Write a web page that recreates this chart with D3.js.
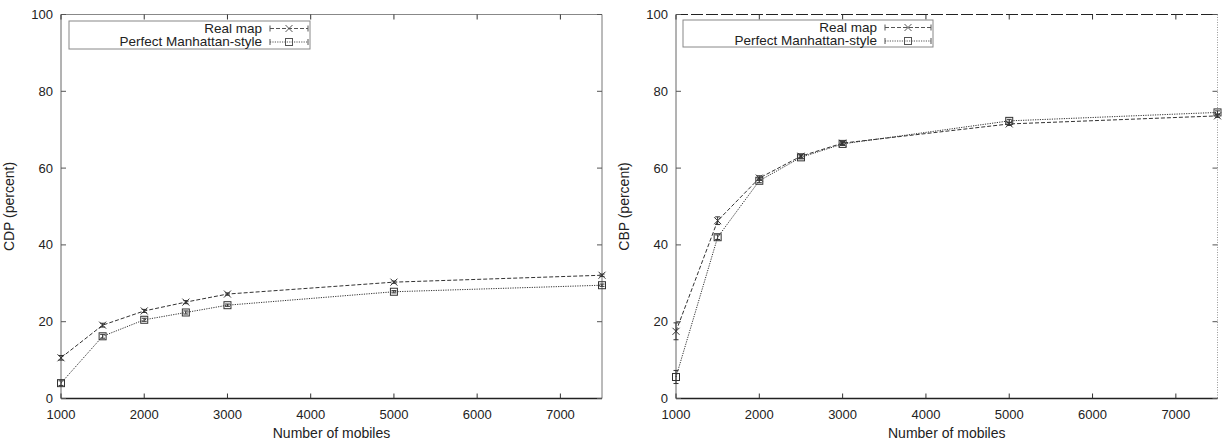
<!DOCTYPE html>
<html>
<head>
<meta charset="utf-8">
<script src="https://cdn.jsdelivr.net/npm/d3@7"></script>
<style>
  html, body { margin: 0; padding: 0; background: #fff; }
  svg text { font-family: "Liberation Sans", Arial, Helvetica, sans-serif; fill: #222; }
</style>
</head>
<body>
<svg id="chart" width="1222" height="442"></svg>
<script>
// ---- data ----
const mobiles = [1000, 1500, 2000, 2500, 3000, 5000, 7500];
const xTicks = [1000, 2000, 3000, 4000, 5000, 6000, 7000];
const yTicks = [0, 20, 40, 60, 80, 100];
const seriesNames = ["Real map", "Perfect Manhattan-style"];

const cdpReal = [10.6, 19.1, 22.8, 25.1, 27.2, 30.3, 32.1];
const cdpManhattan = [4.0, 16.2, 20.5, 22.4, 24.3, 27.8, 29.5];
const cdpRealErr = [0.6, 0.5, 0.4, 0.4, 0.3, 0.3, 0.3];
const cdpManhattanErr = [0.6, 0.5, 0.4, 0.4, 0.3, 0.3, 0.3];

const cbpReal = [17.5, 46.3, 57.4, 63.1, 66.5, 71.5, 73.6];
const cbpManhattan = [5.6, 42.0, 56.7, 62.8, 66.3, 72.3, 74.5];
const cbpRealErr = [2.2, 1.0, 0.6, 0.5, 0.4, 0.4, 0.4];
const cbpManhattanErr = [1.7, 0.6, 0.5, 0.4, 0.4, 0.4, 0.4];

const svg = d3.select("#chart");

function panel(opts) {
  const { left, right, top, bottom, ylabel, real, manh, realErr, manhErr, legendBox, topDashed, rightDotted } = opts;
  const g = svg.append("g");
  const x = d3.scaleLinear().domain([1000, 7500]).range([left, right]);
  const y = d3.scaleLinear().domain([0, 100]).range([bottom, top]);

  // frame
  g.append("line").attr("x1", left).attr("x2", right).attr("y1", top).attr("y2", top)
    .attr("stroke", topDashed ? "#222" : "#888").attr("stroke-width", 1)
    .attr("stroke-dasharray", topDashed ? "12,3" : null);
  g.append("line").attr("x1", right).attr("x2", right).attr("y1", top).attr("y2", bottom)
    .attr("stroke", rightDotted ? "#999" : "#777").attr("stroke-width", 1)
    .attr("stroke-dasharray", rightDotted ? "1,1.5" : null);
  g.append("line").attr("x1", left).attr("x2", left).attr("y1", top).attr("y2", bottom)
    .attr("stroke", "#666").attr("stroke-width", 1);
  g.append("line").attr("x1", left).attr("x2", right).attr("y1", bottom).attr("y2", bottom)
    .attr("stroke", "#222").attr("stroke-width", 1.3);

  // ticks (inward, all four sides)
  const tl = 5;
  xTicks.forEach(v => {
    g.append("line").attr("x1", x(v)).attr("x2", x(v)).attr("y1", bottom).attr("y2", bottom - tl).attr("stroke", "#333");
    g.append("line").attr("x1", x(v)).attr("x2", x(v)).attr("y1", top).attr("y2", top + tl).attr("stroke", "#333");
    g.append("text").attr("x", x(v)).attr("y", bottom + 20).attr("text-anchor", "middle")
      .attr("font-size", 13).text(v);
  });
  yTicks.forEach(v => {
    g.append("line").attr("x1", left).attr("x2", left + tl).attr("y1", y(v)).attr("y2", y(v)).attr("stroke", "#555");
    g.append("line").attr("x1", right).attr("x2", right - tl).attr("y1", y(v)).attr("y2", y(v)).attr("stroke", "#555");
    g.append("text").attr("x", left - 8).attr("y", y(v)).attr("dy", "0.35em").attr("text-anchor", "end")
      .attr("font-size", 13).text(v);
  });

  // axis labels
  g.append("text").attr("x", (left + right) / 2).attr("y", bottom + 39).attr("text-anchor", "middle")
    .attr("font-size", 14).text("Number of mobiles");
  g.append("text").attr("transform", `translate(${left - 47},${(top + bottom) / 2}) rotate(-90)`)
    .attr("text-anchor", "middle").attr("font-size", 14).text(ylabel);

  const styles = [
    { dash: "4,2", color: "#333", marker: "x" },
    { dash: "1.2,1.2", color: "#333", marker: "sq" }
  ];
  const series = [real, manh];
  const errs = [realErr, manhErr];

  function drawMarker(sel, type, cx, cy, color) {
    const s = 3.5;
    if (type === "x") {
      sel.append("path").attr("d", `M${cx - s},${cy - s}L${cx + s},${cy + s}M${cx - s},${cy + s}L${cx + s},${cy - s}`)
        .attr("stroke", color).attr("stroke-width", 1).attr("fill", "none");
    } else {
      sel.append("rect").attr("x", cx - s).attr("y", cy - s).attr("width", 2 * s).attr("height", 2 * s)
        .attr("stroke", color).attr("stroke-width", 1).attr("fill", "none");
    }
  }

  const line = d3.line().x(d => x(d[0])).y(d => y(d[1]));
  series.forEach((vals, si) => {
    const st = styles[si];
    const pts = mobiles.map((m, i) => [m, vals[i]]);
    g.append("path").attr("d", line(pts)).attr("fill", "none")
      .attr("stroke", st.color).attr("stroke-width", 1).attr("stroke-dasharray", st.dash);
    pts.forEach((p, i) => {
      const e = errs[si][i];
      const cx = x(p[0]);
      g.append("line").attr("x1", cx).attr("x2", cx).attr("y1", y(p[1] - e)).attr("y2", y(p[1] + e))
        .attr("stroke", st.color).attr("stroke-width", 1);
      [p[1] - e, p[1] + e].forEach(v => {
        g.append("line").attr("x1", cx - 2.5).attr("x2", cx + 2.5).attr("y1", y(v)).attr("y2", y(v))
          .attr("stroke", st.color).attr("stroke-width", 1);
      });
      drawMarker(g, st.marker, cx, y(p[1]), st.color);
    });
  });

  // legend
  const lb = legendBox;
  g.append("rect").attr("x", lb.x).attr("y", lb.y).attr("width", lb.w).attr("height", lb.h)
    .attr("fill", "#fff").attr("stroke", "#888").attr("stroke-width", 1);
  seriesNames.forEach((name, i) => {
    const st = styles[i];
    const cy = lb.y + 7.5 + i * 13.5;
    g.append("text").attr("x", lb.textX).attr("y", cy).attr("dy", "0.33em").attr("text-anchor", "end")
      .attr("font-size", 13.5).text(name);
    const x1 = lb.textX + 8, x2 = lb.x + lb.w - 2;
    g.append("line").attr("x1", x1).attr("x2", x2).attr("y1", cy).attr("y2", cy)
      .attr("stroke", "#555").attr("stroke-width", 1).attr("stroke-dasharray", st.dash);
    [x1, x2].forEach(xx => g.append("line").attr("x1", xx).attr("x2", xx).attr("y1", cy - 3).attr("y2", cy + 3)
      .attr("stroke", "#555"));
    drawMarker(g, st.marker, (x1 + x2) / 2, cy, "#555");
  });
}

panel({
  left: 61, right: 602, top: 14.5, bottom: 398.5, ylabel: "CDP (percent)",
  real: cdpReal, manh: cdpManhattan, realErr: cdpRealErr, manhErr: cdpManhattanErr,
  legendBox: { x: 69, y: 21, w: 241, h: 28, textX: 262 },
  topDashed: false, rightDotted: false
});
panel({
  left: 676, right: 1217.5, top: 14.5, bottom: 398.5, ylabel: "CBP (percent)",
  real: cbpReal, manh: cbpManhattan, realErr: cbpRealErr, manhErr: cbpManhattanErr,
  legendBox: { x: 683, y: 20, w: 250, h: 27, textX: 877 },
  topDashed: true, rightDotted: true
});
</script>
</body>
</html>
